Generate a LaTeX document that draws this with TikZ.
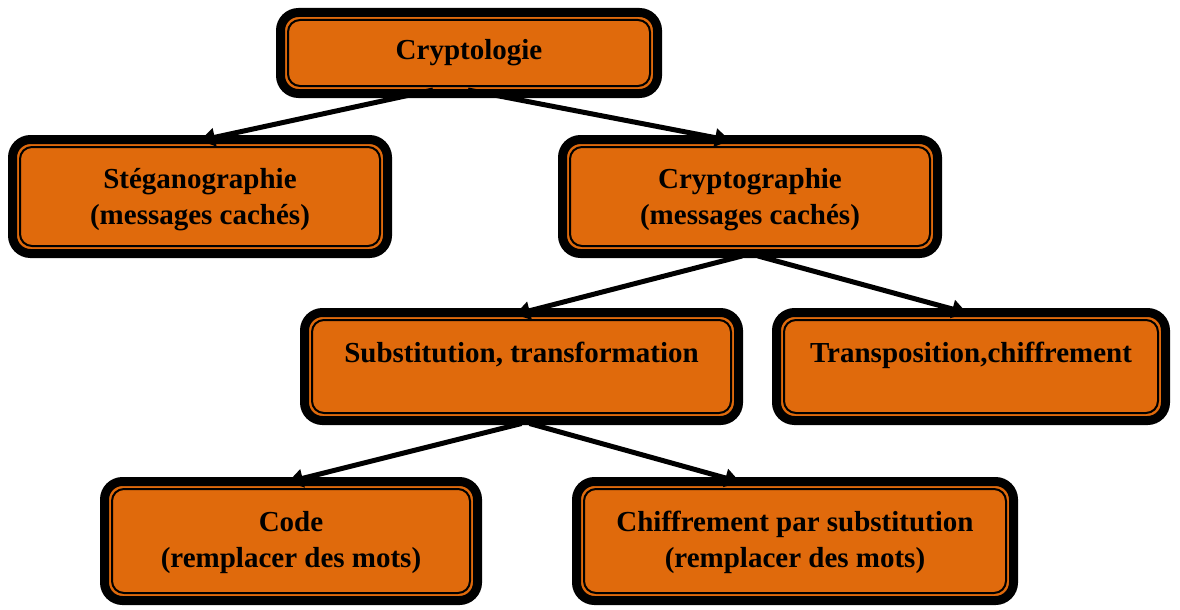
\documentclass[tikz,border=0pt]{standalone}
\usepackage{fontspec}
\setmainfont{Liberation Serif}
\usetikzlibrary{arrows.meta}
\definecolor{boxorange}{RGB}{224,106,12}
% box caption: lines 36pt apart, raised (or lowered) by #1 from the box centre
\newcommand{\boxcaption}[2]{%
  \raisebox{#1}[0pt][0pt]{\begin{tabular}{@{}c@{}}#2\end{tabular}}}
\tikzset{
  cbox/.style={
    draw=black, fill=boxorange, line width=9pt, rounded corners=18pt,
    inner sep=0pt, outer sep=0pt,
    font=\fontsize{29}{36}\selectfont\bfseries,
    path picture={
      \draw[black, line width=2pt, rounded corners=12pt]
        ([shift={(7.5pt,-7.5pt)}]path picture bounding box.north west)
        rectangle
        ([shift={(-7.5pt,7.5pt)}]path picture bounding box.south east);
    }
  },
  link/.style={draw=black, line width=5pt,
    -{Triangle[length=15pt,width=18pt]}}
}
\begin{document}
\begin{tikzpicture}[x=1pt,y=-1pt]
  \useasboundingbox (0,0) rectangle (1180,610);

  % boxes
  \node[cbox, minimum width=377pt, minimum height=81pt]  (logie)  at (469,53)
    {\boxcaption{-6pt}{Cryptologie}};
  \node[cbox, minimum width=375pt, minimum height=114pt] (steg)   at (200,196.5)
    {\boxcaption{-9.5pt}{Stéganographie\\(messages cachés)}};
  \node[cbox, minimum width=375pt, minimum height=114pt] (graph)  at (750,196.5)
    {\boxcaption{-9.5pt}{Cryptographie\\(messages cachés)}};
  \node[cbox, minimum width=434pt, minimum height=108pt] (subst)  at (521.5,366.5)
    {\boxcaption{4.5pt}{Substitution, transformation}};
  \node[cbox, minimum width=389pt, minimum height=108pt] (transp) at (971,366.5)
    {\boxcaption{4.5pt}{Transposition,chiffrement}};
  \node[cbox, minimum width=373pt, minimum height=119pt] (code)   at (291,541)
    {\boxcaption{-8pt}{Code\\(remplacer des mots)}};
  \node[cbox, minimum width=437pt, minimum height=119pt] (chiff)  at (795,541)
    {\boxcaption{-8pt}{Chiffrement par substitution\\(remplacer des mots)}};

  % connectors
  \draw[link] ([shift={(-36,-3.5)}]logie.south) -- ([shift={(0,1)}]steg.north);
  \draw[link] ([shift={(-1,-3.5)}]logie.south)  -- ([shift={(-20,1)}]graph.north);
  \draw[link] ([shift={(-8,2.5)}]graph.south)   -- ([shift={(-6.5,2)}]subst.north);
  \draw[link] ([shift={(8,2.5)}]graph.south)    -- ([shift={(-4,0.5)}]transp.north);
  \draw[link] ([shift={(0,3)}]subst.south)      -- ([shift={(-3,0.5)}]code.north);
  \draw[link] ([shift={(8,3)}]subst.south)      -- ([shift={(-55,0.5)}]chiff.north);
\end{tikzpicture}
\end{document}
